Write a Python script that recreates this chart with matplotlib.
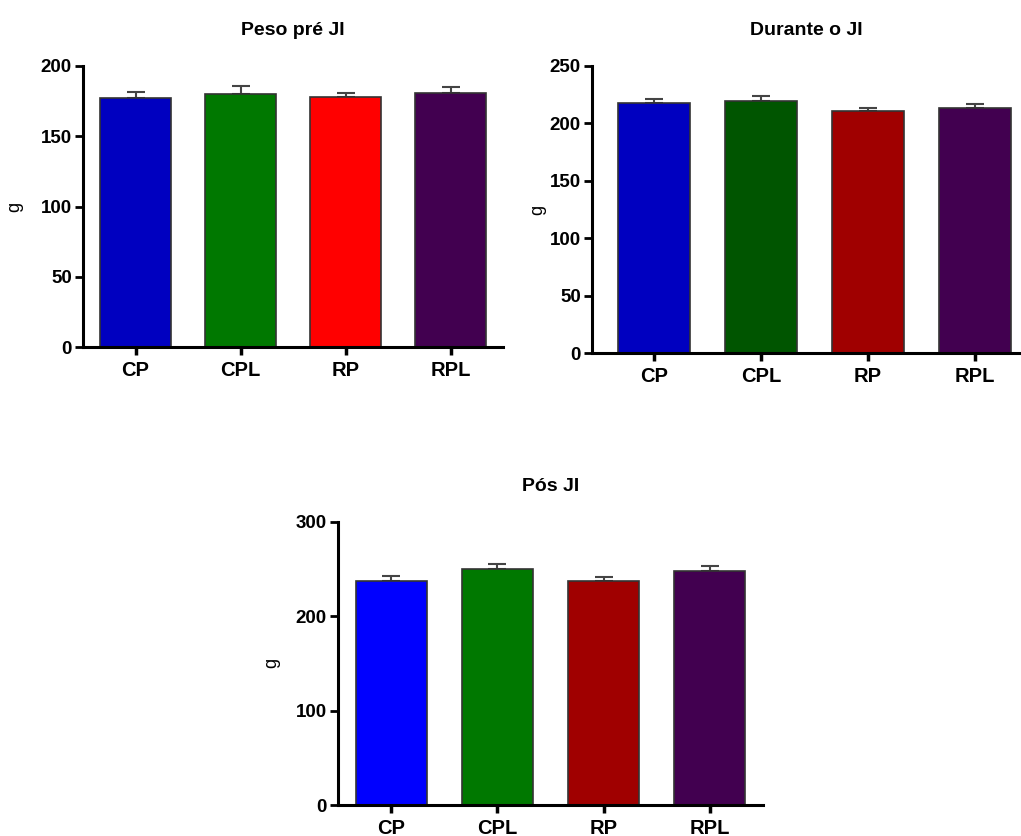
import matplotlib
matplotlib.use("Agg")
import matplotlib.pyplot as plt
import numpy as np

plt.rcParams['font.family'] = ['Liberation Sans', 'DejaVu Sans']

categories = ["CP", "CPL", "RP", "RPL"]

titles = ["Peso pré JI", "Durante o JI", "Pós JI"]

pre_mean = [177.2, 180.0, 178.0, 181.0]
pre_err = [4.3, 5.5, 3.0, 3.8]

dur_mean = [217.6, 219.8, 211.1, 213.5]
dur_err = [4.0, 4.4, 2.7, 3.5]

pos_mean = [237.2, 250.0, 237.6, 247.9]
pos_err = [5.3, 5.3, 3.9, 5.6]

pre_colors = ["#0000c0", "#007800", "#ff0000", "#420050"]
dur_colors = ["#0000c0", "#005500", "#a00000", "#420050"]
pos_colors = ["#0000ff", "#007800", "#a00000", "#420050"]

pre_ticks = [0, 50, 100, 150, 200]
dur_ticks = [0, 50, 100, 150, 200, 250]
pos_ticks = [0, 100, 200, 300]

W, H = 1021, 836
fig = plt.figure(figsize=(W / 100, H / 100), dpi=100)

def px_axes(left, right, top, bottom):
    return fig.add_axes([left / W, 1 - bottom / H, (right - left) / W, (bottom - top) / H])

panels = [
    (px_axes(83, 503, 66, 347), pre_mean, pre_err, pre_colors, pre_ticks, titles[0], (-0.5, 3.5), 23),
    (px_axes(592, 1021, 66, 353.3), dur_mean, dur_err, dur_colors, dur_ticks, titles[1], (-0.58, 3.43), 546),
    (px_axes(338, 763, 521.7, 805), pos_mean, pos_err, pos_colors, pos_ticks, titles[2], (-0.5, 3.5), 280),
]

for ax, mean, err, cols, ticks, title, xl, gx in panels:
    x = np.arange(len(categories))
    ax.bar(x, mean, width=0.67, color=cols, edgecolor="#333333", linewidth=1.2, zorder=2)
    ax.errorbar(x, mean, yerr=[np.zeros(len(err)), err], fmt="none",
                ecolor="#444444", elinewidth=1.5, capsize=6.5, capthick=1.5, zorder=1)
    ax.set_xlim(*xl)
    ax.set_ylim(ticks[0], ticks[-1])
    ax.set_yticks(ticks)
    ax.set_xticks(x)
    ax.set_xticklabels(categories, fontsize=14.5, fontweight="bold")
    ax.set_yticklabels([str(t) for t in ticks], fontsize=13.5, fontweight="bold")
    for s in ["top", "right"]:
        ax.spines[s].set_visible(False)
    for s in ["left", "bottom"]:
        ax.spines[s].set_linewidth(2.2)
    ax.tick_params(axis="y", direction="out", length=6, width=2, pad=2)
    ax.tick_params(axis="x", direction="out", length=6, width=2.5, pad=4)
    ax.set_title(title, fontsize=14, fontweight="bold", pad=22)
    ax.set_ylabel("g", fontsize=13)
    ax.yaxis.set_label_coords((gx - ax.get_position().x0 * W) / (ax.get_position().width * W), 0.5)

fig.savefig("out.png", dpi=100)
